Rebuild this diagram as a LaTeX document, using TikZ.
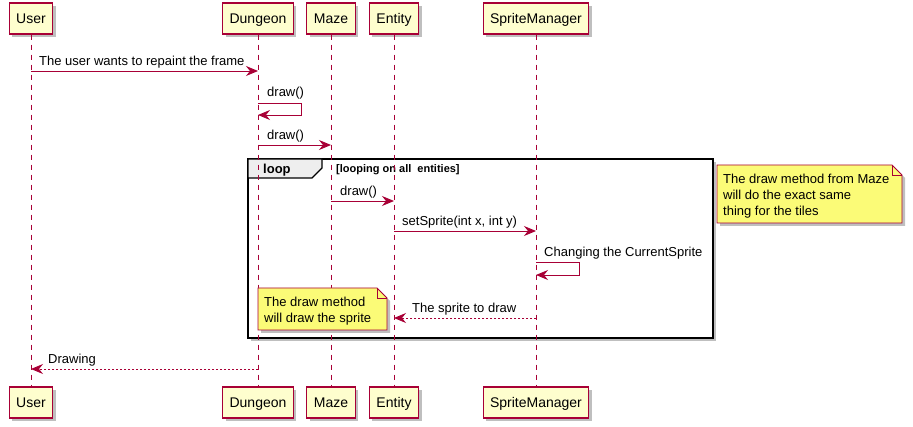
\documentclass[tikz,border=0pt]{standalone}
\usepackage{fontspec}
\setmainfont{Liberation Sans}
\usetikzlibrary{arrows.meta,shadows}

\definecolor{umlred}{HTML}{A80036}
\definecolor{partfill}{HTML}{FEFECE}
\definecolor{notefill}{HTML}{FBFB77}
\definecolor{tabfill}{HTML}{EEEEEE}

\tikzset{
  shade/.style={drop shadow={shadow xshift=3pt, shadow yshift=-3pt, opacity=0.25, fill=black}},
  part/.style={draw=umlred, fill=partfill, line width=1.1pt, minimum height=31pt,
    text height=12pt, text depth=1pt, inner xsep=7pt, font=\fontsize{14}{16}\selectfont, shade},
  life/.style={umlred, line width=0.8pt, dash pattern=on 5pt off 5pt},
  msg/.style={umlred, line width=0.9pt, -{Stealth[length=12pt, width=10pt, inset=4pt]}},
  ret/.style={msg, dash pattern=on 2pt off 2pt},
  lbl/.style={font=\fontsize{13}{15}\selectfont, inner sep=0pt, anchor=base west},
  notebox/.style={draw=umlred, fill=notefill, line width=0.9pt, shade},
  notetext/.style={font=\fontsize{13}{16}\selectfont, inner sep=0pt, anchor=north west, align=left}
}

\begin{document}
\begin{tikzpicture}[x=1pt, y=-1pt]
\useasboundingbox (0,0) rectangle (913,427);

% loop frame
\draw[line width=1.6pt, shade, fill=white] (248,159) rectangle (713,338);
\draw[line width=1.1pt, fill=tabfill] (248,159) -- (322,159) -- (322,168) -- (312,178) -- (248,178) -- cycle;
\node[font=\fontsize{13}{15}\selectfont\bfseries, inner sep=0pt, anchor=base west] (looplbl) at (263,174) {loop};
\node[font=\fontsize{11}{13}\selectfont\bfseries, inner sep=0pt, anchor=base west] (guard) at (336,173) {[looping on all\ \ entities]};

% participants
\node[part] (user) at (31,18.5) {User};
\node[part] (dungeon) at (258,18.5) {Dungeon};
\node[part] (maze) at (331,18.5) {Maze};
\node[part] (entity) at (394,18.5) {Entity};
\node[part] (sprite) at (536,18.5) {SpriteManager};

\node[part] (userB) at (31,402.5) {User};
\node[part] (dungeonB) at (258,402.5) {Dungeon};
\node[part] (mazeB) at (331,402.5) {Maze};
\node[part] (entityB) at (394,402.5) {Entity};
\node[part] (spriteB) at (536,402.5) {SpriteManager};

% lifelines
\draw[life] (user) -- (userB);
\draw[life] (dungeon) -- (dungeonB);
\draw[life] (maze) -- (mazeB);
\draw[life] (entity) -- (entityB);
\draw[life] (sprite) -- (spriteB);

% message points
\coordinate (u1) at (user |- 0,71);
\coordinate (d1) at (dungeon |- 0,71);
\coordinate (d2) at (dungeon |- 0,103);
\coordinate (d3) at (dungeon |- 0,115);
\coordinate (d4) at (dungeon |- 0,145);
\coordinate (m4) at (maze |- 0,145);
\coordinate (m5) at (maze |- 0,201);
\coordinate (e5) at (entity |- 0,201);
\coordinate (e6) at (entity |- 0,231);
\coordinate (s6) at (sprite |- 0,231);
\coordinate (s7) at (sprite |- 0,262);
\coordinate (s8) at (sprite |- 0,275);
\coordinate (s9) at (sprite |- 0,318);
\coordinate (e9) at (entity |- 0,318);
\coordinate (d10) at (dungeon |- 0,369);
\coordinate (u10) at (user |- 0,369);

% messages
\draw[msg] (u1) -- (d1);
\node[lbl] (t1) at (39,66) {The user wants to repaint the frame};
\draw[msg] (d2) -- ++(43,0) |- (d3);
\node[lbl] (t2) at (267,97) {draw()};
\draw[msg] (d4) -- (m4);
\node[lbl] (t3) at (267,140) {draw()};
\draw[msg] (m5) -- (e5);
\node[lbl] (t4) at (340,196) {draw()};
\draw[msg] (e6) -- (s6);
\node[lbl] (t5) at (402,226) {setSprite(int x, int y)};
\draw[msg] (s7) -- ++(43,0) |- (s8);
\node[lbl] (t6) at (544,257) {Changing the CurrentSprite};
\draw[ret] (s9) -- (e9);
\node[lbl] (t7) at (412,313) {The sprite to draw};
\draw[ret] (d10) -- (u10);
\node[lbl] (t8) at (48,364) {Drawing};

% notes
\draw[notebox] (258,288) -- (377,288) -- (387,298) -- (387,330) -- (258,330) -- cycle;
\draw[umlred, line width=0.9pt] (377,288) -- (377,298) -- (387,298);
\node[notetext] (note1) at (264,297) {The draw method\\will draw the sprite};

\draw[notebox] (717,165) -- (892,165) -- (902,175) -- (902,223) -- (717,223) -- cycle;
\draw[umlred, line width=0.9pt] (892,165) -- (892,175) -- (902,175);
\node[notetext] (note2) at (723,174) {The draw method from Maze\\will do the exact same\\thing for the tiles};

\end{tikzpicture}
\end{document}
